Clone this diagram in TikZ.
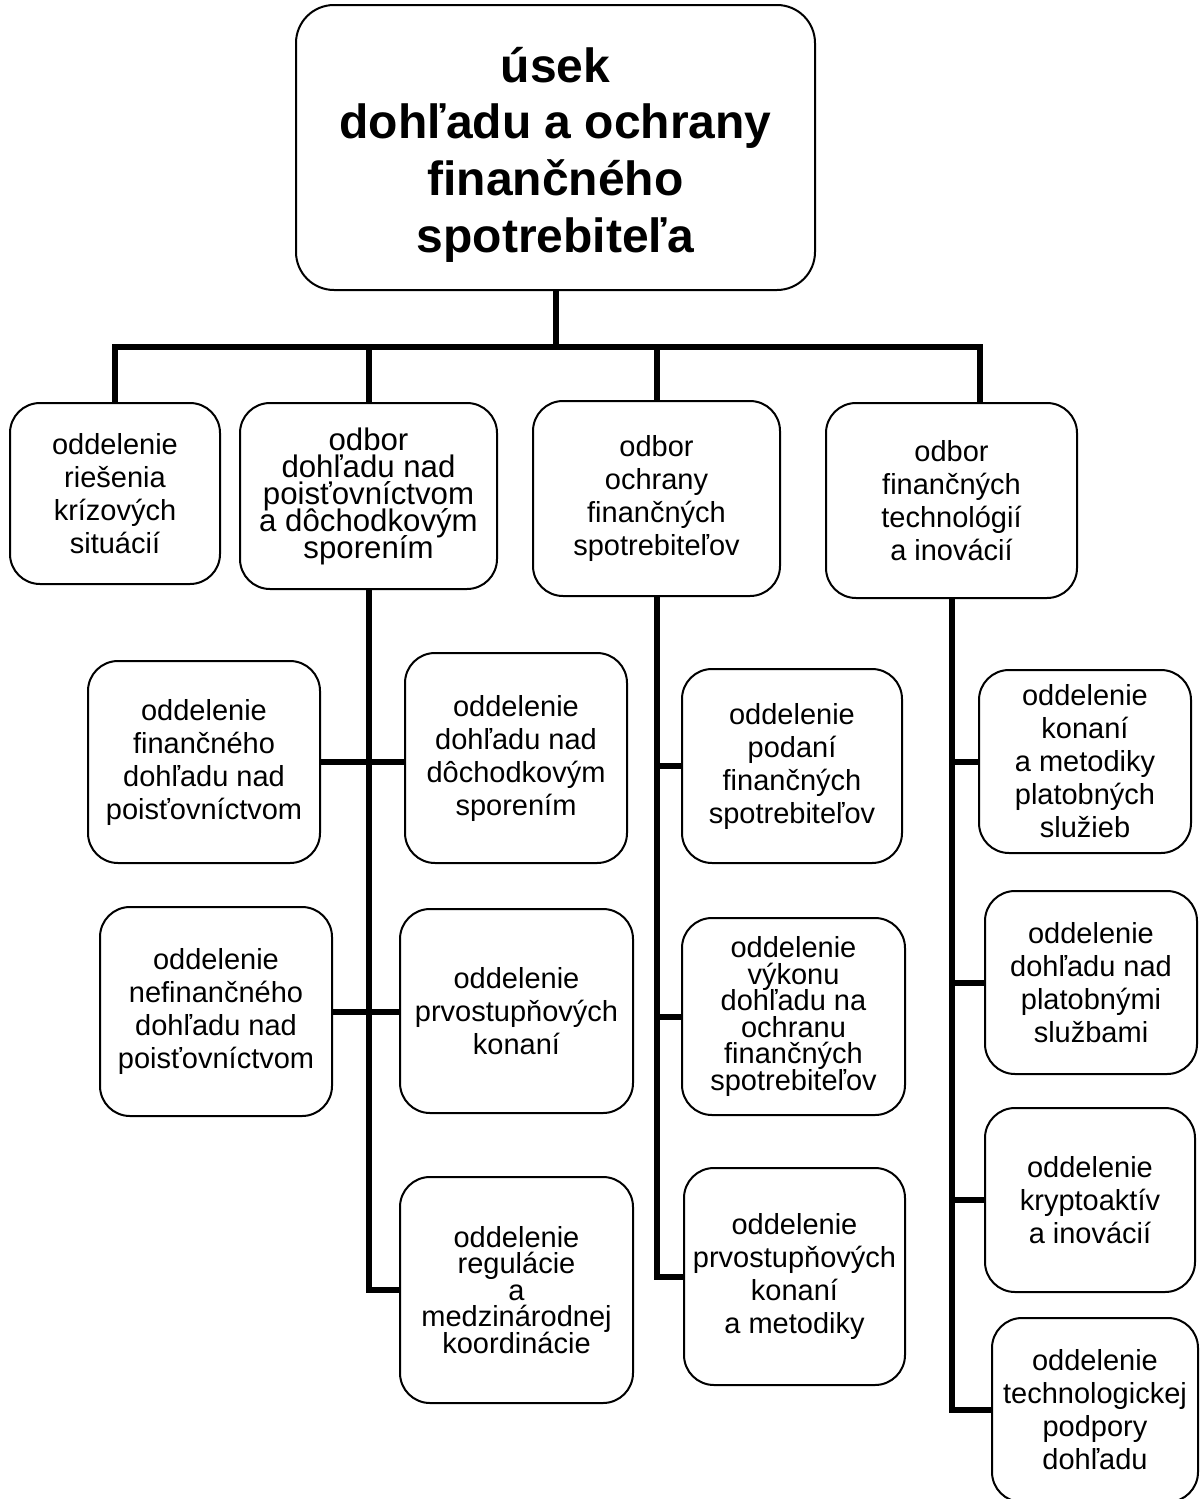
\documentclass[tikz,border=0pt]{standalone}
\usepackage{fontspec}
\setmainfont{Liberation Sans}
\usepackage{tikz}
\usetikzlibrary{calc}
\newcommand\tightfnt{\fontsize{14.5}{13.3}\selectfont\lineskiplimit=-20pt}
\tikzset{
  hd/.style={rectangle, rounded corners=19pt, draw=black, line width=1pt},
  hdtxt/.style={align=center, inner sep=0pt, font=\bfseries\fontsize{24}{28.3}\selectfont},
  ob/.style={rectangle, rounded corners=15pt, draw=black, line width=1pt, align=center, inner sep=2pt, font=\fontsize{14.5}{16.5}\selectfont},
  obt/.style={ob, font=\tightfnt},
  obb/.style={ob, font={\fontsize{15.6}{13.5}\selectfont\lineskiplimit=-20pt}},
  ln/.style={line width=3pt}
}
\begin{document}
\begin{tikzpicture}[x=0.5pt, y=-0.5pt]
	\useasboundingbox (0,0) rectangle (1203,1499);
	\node[hd, minimum width=259.5pt, minimum height=142.5pt] (usek) at (555.5,147.5) {};
	\node[hdtxt] (usekTxt) at ([yshift=-3.5pt]usek.center) {úsek\\dohľadu a ochrany\\finančného\\spotrebiteľa};
	\coordinate (bus) at (555.5,347);
	
	\node[ob, minimum width=105pt, minimum height=90.5pt] (krizy) at (115,493.5) {oddelenie\\riešenia\\krízových\\situácií};
	\node[obb, minimum width=128.5pt, minimum height=93pt] (odborPoist) at (368.5,496) {odbor\\dohľadu nad\\poisťovníctvom\\a dôchodkovým\\sporením};
	\node[ob, minimum width=123.5pt, minimum height=97.5pt] (odborOchr) at (656.5,498.5) {odbor\\ochrany\\finančných\\spotrebiteľov};
	\node[ob, minimum width=125.5pt, minimum height=97.5pt] (odborTech) at (951.5,500.5) {odbor\\finančných\\technológií\\ a inovácií};
	
	\node[ob, minimum width=116pt, minimum height=101pt] (poistFin) at (204,762) {oddelenie\\finančného\\dohľadu nad\\poisťovníctvom};
	\node[ob, minimum width=111pt, minimum height=105pt] (dochod) at (516,758) {oddelenie\\dohľadu nad\\dôchodkovým\\sporením};
	\node[ob, minimum width=116pt, minimum height=104.5pt] (poistNefin) at (216,1011.5) {oddelenie\\nefinančného\\dohľadu nad\\poisťovníctvom};
	\node[ob, minimum width=116.5pt, minimum height=102pt] (prvoPoist) at (516.5,1011) {oddelenie\\prvostupňových\\konaní};
	\node[obt, minimum width=116.5pt, minimum height=113pt] (regul) at (516.5,1290) {oddelenie\\regulácie\\a\\medzinárodnej\\koordinácie};
	
	\node[ob, minimum width=110pt, minimum height=97pt] (podani) at (792,766) {oddelenie\\podaní\\finančných\\spotrebiteľov};
	\node[obt, minimum width=111.5pt, minimum height=98.5pt] (vykon) at (793.5,1016.5) {oddelenie\\výkonu\\dohľadu na\\ochranu\\finančných\\spotrebiteľov};
	\node[ob, minimum width=110.5pt, minimum height=108.5pt] (prvoMet) at (794.5,1276.5) {oddelenie\\prvostupňových\\konaní\\a metodiky};
	
	\node[ob, minimum width=106pt, minimum height=91.5pt] (platMet) at (1085,761.5) {oddelenie\\konaní\\a metodiky\\platobných\\služieb};
	\node[ob, minimum width=106pt, minimum height=91.5pt] (platDohl) at (1091,982.5) {oddelenie\\dohľadu nad\\platobnými\\službami};
	\node[ob, minimum width=105pt, minimum height=92pt] (krypto) at (1090,1200) {oddelenie\\kryptoaktív\\a inovácií};
	\node[ob, minimum width=103pt, minimum height=92pt] (techPod) at (1095,1410) {oddelenie\\technologickej\\podpory\\dohľadu};
	%
	\draw[ln] (usek.south) -- (bus);
	\draw[ln] (krizy.north) |- (bus) -| ([xshift=14.25pt]odborTech.north);
	\draw[ln] (odborPoist.north) -- (odborPoist.north |- bus);
	\draw[ln] (odborOchr.north) -- (odborOchr.north |- bus);
	
	\draw[ln] (odborPoist.south) |- (regul.west);
	\draw[ln] (poistFin.east) -- (poistFin.east -| dochod.west);
	\draw[ln] (poistNefin.east) -- (poistNefin.east -| prvoPoist.west);
	
	\draw[ln] (odborOchr.south) |- (prvoMet.west);
	\draw[ln] (odborOchr.south |- podani.west) -- (podani.west);
	\draw[ln] (odborOchr.south |- vykon.west) -- (vykon.west);
	
	\draw[ln] (odborTech.south) |- (techPod.west);
	\draw[ln] (odborTech.south |- platMet.west) -- (platMet.west);
	\draw[ln] (odborTech.south |- platDohl.west) -- (platDohl.west);
	\draw[ln] (odborTech.south |- krypto.west) -- (krypto.west);
\end{tikzpicture}
\end{document}
